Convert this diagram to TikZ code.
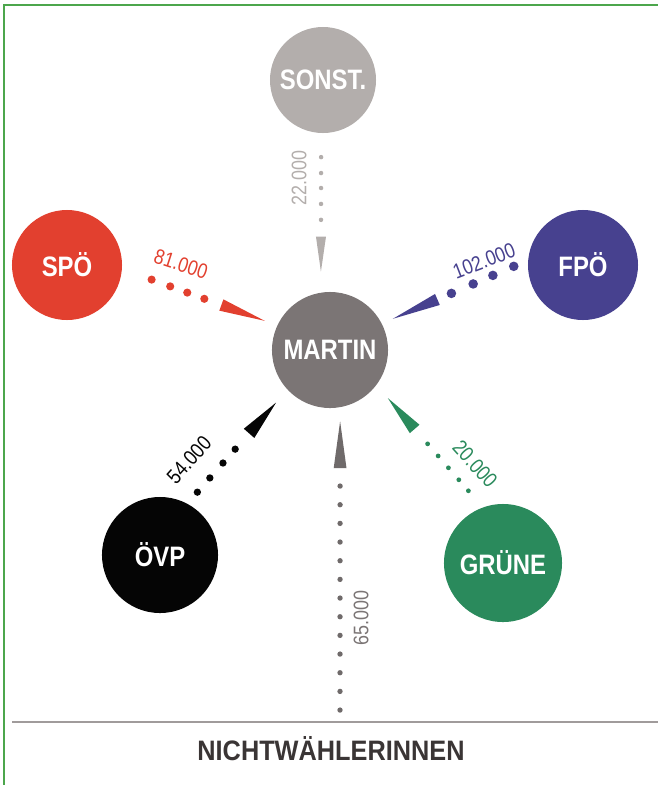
\documentclass[tikz,border=0pt]{standalone}
\usepackage{fontspec}
\setmainfont{Liberation Sans}
\newfontfamily\schmal{Liberation Sans}[FakeStretch=0.85]
\newfontfamily\unten{Liberation Sans}[FakeStretch=0.9]
\usetikzlibrary{calc}

\definecolor{sonstgrau}{HTML}{B3AEAC}
\definecolor{spored}{HTML}{E2402F}
\definecolor{fpoblau}{HTML}{47418F}
\definecolor{martingrau}{HTML}{7B7575}
\definecolor{ovpschwarz}{HTML}{050505}
\definecolor{gruengruen}{HTML}{2A8A5C}
\definecolor{rahmengruen}{HTML}{4CA64C}
\definecolor{liniengrau}{HTML}{A09B9B}
\definecolor{textgrau}{HTML}{3A3535}
\definecolor{pfeilgrau}{HTML}{6F6A6A}

\tikzset{
  partei/.style={circle, inner sep=0pt, text=white,
    font=\schmal\bfseries\fontsize{20}{24}\selectfont},
  zahl/.style={inner sep=0pt, font=\schmal\fontsize{15}{17}\selectfont},
}

\begin{document}
\begin{tikzpicture}[x=0.025cm, y=-0.025cm]
            \useasboundingbox (0,0) rectangle (658,785);

            % Rahmen oben und links
            \draw[rahmengruen, line width=1pt] (4,785) -- (4,5) -- (658,5);

            % Kreise der Parteien
            \node[partei, fill=martingrau, minimum size=2.9cm] (martin) at (330,350) {MARTIN};
            \node[partei, fill=sonstgrau, minimum size=2.65cm] (sonst) at (323,80) {SONST.};
            \node[partei, fill=spored, minimum size=2.75cm] (spo) at (67,265) {SPÖ};
            \node[partei, fill=fpoblau, minimum size=2.75cm] (fpo) at (583,265) {FPÖ};
            \node[partei, fill=ovpschwarz, minimum size=2.9cm] (ovp) at (160,555) {ÖVP};
            \node[partei, fill=gruengruen, minimum size=2.95cm] (grune) at (503,563) {GRÜNE};

            % Nichtwaehler unten
            \draw[liniengrau, line width=1.8pt] (12,722) -- (658,722);
            \coordinate (nwstart) at (340,722);
            \node[font=\unten\bfseries\fontsize{20}{23}\selectfont, text=textgrau] (nichtwaehler) at (331,749) {NICHTWÄHLERINNEN};

            % SONST. -> MARTIN
            \foreach \t in {0.15,0.25,0.344,0.444,0.544}
                \fill[sonstgrau] ($(sonst.268)!\t!(martin.99)$) circle (1.6pt);
            \coordinate (sonstbasis) at ($(sonst.268)!0.65!(martin.99)$);
            \coordinate (sonstspitze) at ($(sonst.268)!0.87!(martin.99)$);
            \fill[sonstgrau] ($(sonstbasis)!0.125cm!90:(sonstspitze)$) -- ($(sonstbasis)!0.125cm!-90:(sonstspitze)$) -- (sonstspitze) -- cycle;
            \node[zahl, text=sonstgrau, rotate=90] (sonstzahl) at (299,178) {22.000};

            % SPÖ -> MARTIN
            \foreach \t in {0.19,0.31,0.42,0.53}
                \fill[spored] ($(spo.-4)!\t!(martin.155)$) circle (2.9pt);
            \coordinate (spobasis) at ($(spo.-4)!0.64!(martin.155)$);
            \coordinate (spospitze) at ($(spo.-4)!0.92!(martin.155)$);
            \fill[spored] ($(spobasis)!0.15cm!90:(spospitze)$) -- ($(spobasis)!0.15cm!-90:(spospitze)$) -- (spospitze) -- cycle;
            \node[zahl, text=spored, rotate=-18] (spozahl) at (181,264) {81.000};

            % FPÖ -> MARTIN
            \foreach \t in {0.097,0.24,0.375,0.524}
                \fill[fpoblau] ($(fpo.175)!\t!(martin.27)$) circle (3.4pt);
            \coordinate (fpobasis) at ($(fpo.175)!0.62!(martin.27)$);
            \coordinate (fpospitze) at ($(fpo.175)!0.925!(martin.27)$);
            \fill[fpoblau] ($(fpobasis)!0.15cm!90:(fpospitze)$) -- ($(fpobasis)!0.15cm!-90:(fpospitze)$) -- (fpospitze) -- cycle;
            \node[zahl, text=fpoblau, rotate=21] (fpozahl) at (484,261) {102.000};

            % ÖVP -> MARTIN
            \foreach \t in {0.10,0.225,0.356,0.478}
                \fill[ovpschwarz] ($(ovp.62)!\t!(martin.223)$) circle (2.6pt);
            \coordinate (ovpbasis) at ($(ovp.62)!0.617!(martin.223)$);
            \coordinate (ovpspitze) at ($(ovp.62)!0.887!(martin.223)$);
            \fill[ovpschwarz] ($(ovpbasis)!0.175cm!90:(ovpspitze)$) -- ($(ovpbasis)!0.175cm!-90:(ovpspitze)$) -- (ovpspitze) -- cycle;
            \node[zahl, text=ovpschwarz, rotate=48] (ovpzahl) at (189,460) {54.000};

            % GRÜNE -> MARTIN
            \foreach \t in {0.135,0.225,0.323,0.42,0.519}
                \fill[gruengruen] ($(grune.110)!\t!(martin.-37)$) circle (1.7pt);
            \coordinate (grunebasis) at ($(grune.110)!0.641!(martin.-37)$);
            \coordinate (grunespitze) at ($(grune.110)!0.894!(martin.-37)$);
            \fill[gruengruen] ($(grunebasis)!0.16cm!90:(grunespitze)$) -- ($(grunebasis)!0.16cm!-90:(grunespitze)$) -- (grunespitze) -- cycle;
            \node[zahl, text=gruengruen, rotate=-48] (grunezahl) at (475,464) {20.000};

            % NICHTWÄHLERINNEN -> MARTIN
            \foreach \i [evaluate=\i as \t using (12+18.75*\i)/316] in {0,...,12}
                \fill[pfeilgrau] ($(nwstart)!\t!(martin.-80)$) circle (1.9pt);
            \coordinate (nwbasis) at ($(nwstart)!0.807!(martin.-80)$);
            \coordinate (nwspitze) at ($(nwstart)!0.956!(martin.-80)$);
            \fill[pfeilgrau] ($(nwbasis)!0.16cm!90:(nwspitze)$) -- ($(nwbasis)!0.16cm!-90:(nwspitze)$) -- (nwspitze) -- cycle;
            \node[zahl, text=martingrau, rotate=90] (nwzahl) at (361,618) {65.000};
\end{tikzpicture}
\end{document}
